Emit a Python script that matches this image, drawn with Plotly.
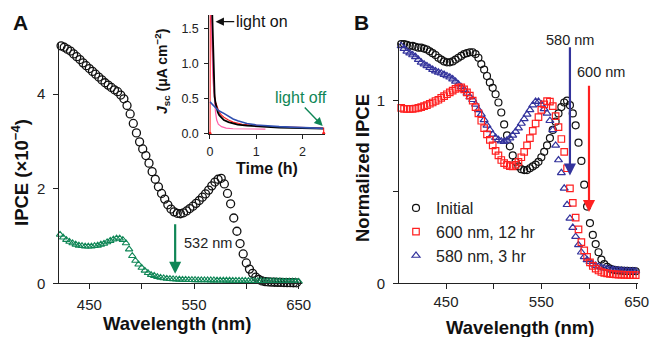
import plotly.graph_objects as go

# ---------------- data ----------------
# Panel A (IPCE x1e-4)
wl_a_black = list(range(423, 649, 3))
ipce_a_black = [5.02, 4.99, 4.95, 4.91, 4.85, 4.79, 4.73, 4.66, 4.60, 4.54,
                4.48, 4.42, 4.36, 4.30, 4.24, 4.19, 4.14, 4.09, 4.05, 3.98,
                3.90, 3.76, 3.58, 3.38, 3.18, 2.99, 2.84, 2.70, 2.54, 2.36,
                2.20, 2.04, 1.90, 1.78, 1.66, 1.57, 1.51, 1.48, 1.47, 1.49,
                1.53, 1.58, 1.63, 1.69, 1.75, 1.82, 1.89, 1.97, 2.06, 2.14,
                2.20, 2.22, 2.10, 1.90, 1.68, 1.38, 1.10, 0.84, 0.62, 0.43,
                0.30, 0.21, 0.13, 0.08, 0.05, 0.035, 0.03, 0.025, 0.022, 0.02,
                0.018, 0.016, 0.014, 0.013, 0.012, 0.011]
wl_a_green = list(range(422, 651, 3))
ipce_a_green = [1.03, 0.97, 0.92, 0.88, 0.85, 0.82, 0.80, 0.79, 0.78, 0.78,
                0.78, 0.79, 0.80, 0.82, 0.84, 0.87, 0.90, 0.93, 0.95, 0.95,
                0.92, 0.85, 0.72, 0.58, 0.48, 0.40, 0.33, 0.27, 0.22, 0.18,
                0.16, 0.135, 0.12, 0.11, 0.10, 0.095, 0.09, 0.085, 0.08, 0.078,
                0.076, 0.074, 0.072, 0.07, 0.069, 0.068, 0.067, 0.066, 0.065, 0.064,
                0.063, 0.062, 0.061, 0.06, 0.059, 0.058, 0.057, 0.056, 0.055, 0.054,
                0.053, 0.052, 0.051, 0.05, 0.049, 0.048, 0.047, 0.046, 0.045, 0.044,
                0.043, 0.042, 0.041, 0.04, 0.039, 0.038, 0.037]

# Inset: short-circuit current vs time
t_red = [0.0, 0.004, 0.03, 0.05, 0.07, 0.09, 0.12, 0.16, 0.20, 0.25, 0.30, 0.40,
         0.50, 0.70, 1.00, 1.25, 1.50, 1.75, 2.00, 2.25, 2.46, 2.462]
j_red = [0.0, 1.80, 1.60, 1.15, 0.80, 0.60, 0.45, 0.36, 0.30, 0.26, 0.23, 0.19,
         0.16, 0.13, 0.11, 0.10, 0.092, 0.086, 0.082, 0.078, 0.075, 0.0]
t_pink = [0.02, 0.03, 0.04, 0.05, 0.06, 0.07, 0.08, 0.10, 0.12, 0.145, 0.18,
          0.25, 0.35, 0.50, 0.80, 1.20]
j_pink = [1.80, 1.45, 1.20, 1.00, 0.84, 0.72, 0.60, 0.42, 0.30, 0.19, 0.13,
          0.095, 0.075, 0.065, 0.06, 0.06]
t_black = [0.045, 0.05, 0.06, 0.07, 0.08, 0.09, 0.10, 0.12, 0.14, 0.17, 0.20,
           0.25, 0.30, 0.40, 0.50, 0.60, 0.80, 1.00, 1.25, 1.50, 1.75, 2.00,
           2.25, 2.45]
j_black = [1.80, 1.65, 1.25, 0.98, 0.78, 0.63, 0.53, 0.43, 0.36, 0.30, 0.26,
           0.22, 0.19, 0.16, 0.14, 0.125, 0.11, 0.10, 0.09, 0.083, 0.078, 0.074,
           0.07, 0.068]
t_blue = [0.0, 0.05, 0.10, 0.15, 0.20, 0.30, 0.40, 0.50, 0.60, 0.80, 1.00,
          1.25, 1.50, 1.75, 2.00, 2.25, 2.45]
j_blue = [0.45, 0.41, 0.38, 0.35, 0.32, 0.285, 0.24, 0.205, 0.18, 0.14, 0.12,
          0.105, 0.095, 0.088, 0.08, 0.075, 0.07]

# Panel B (normalized IPCE)
wl_b = list(range(400, 650, 3))
norm_initial = [1.31, 1.31, 1.31, 1.305, 1.30, 1.30, 1.295, 1.29, 1.29, 1.285,
                1.28, 1.27, 1.26, 1.25, 1.235, 1.225, 1.215, 1.21, 1.21, 1.215,
                1.225, 1.235, 1.245, 1.255, 1.26, 1.265, 1.265, 1.255, 1.235, 1.20,
                1.17, 1.135, 1.10, 1.07, 1.035, 0.99, 0.935, 0.87, 0.81, 0.75,
                0.70, 0.665, 0.64, 0.625, 0.62, 0.62, 0.63, 0.64, 0.65, 0.665,
                0.69, 0.72, 0.755, 0.795, 0.84, 0.885, 0.93, 0.965, 0.99, 1.00,
                0.975, 0.93, 0.865, 0.77, 0.67, 0.54, 0.42, 0.33, 0.265, 0.215,
                0.17, 0.13, 0.105, 0.09, 0.08, 0.075, 0.072, 0.07, 0.069, 0.068,
                0.068, 0.067, 0.067, 0.066]
norm_600 = [0.965, 0.96, 0.955, 0.955, 0.955, 0.955, 0.957, 0.96, 0.965, 0.97,
            0.975, 0.983, 0.99, 0.998, 1.005, 1.015, 1.025, 1.035, 1.045, 1.055,
            1.065, 1.072, 1.073, 1.062, 1.045, 1.028, 1.00, 0.965, 0.93, 0.89,
            0.85, 0.815, 0.785, 0.755, 0.725, 0.70, 0.675, 0.658, 0.648, 0.641,
            0.64, 0.648, 0.665, 0.69, 0.72, 0.755, 0.795, 0.835, 0.875, 0.91,
            0.95, 0.98, 0.997, 0.995, 0.97, 0.915, 0.855, 0.79, 0.72, 0.63,
            0.52, 0.44, 0.36, 0.295, 0.225, 0.18, 0.145, 0.115, 0.095, 0.08,
            0.07, 0.062, 0.057, 0.054, 0.052, 0.05, 0.049, 0.048, 0.047, 0.046,
            0.046, 0.045, 0.045, 0.045]
norm_580 = [1.31, 1.30, 1.285, 1.27, 1.26, 1.25, 1.24, 1.225, 1.21, 1.20,
            1.19, 1.18, 1.17, 1.162, 1.155, 1.15, 1.143, 1.135, 1.128, 1.118,
            1.105, 1.09, 1.075, 1.06, 1.04, 1.02, 1.005, 0.98, 0.95, 0.925,
            0.895, 0.865, 0.84, 0.815, 0.798, 0.786, 0.778, 0.776, 0.783, 0.795,
            0.81, 0.83, 0.85, 0.875, 0.90, 0.925, 0.95, 0.975, 0.995, 0.995,
            0.98, 0.955, 0.93, 0.89, 0.84, 0.755, 0.675, 0.605, 0.52, 0.43,
            0.355, 0.305, 0.255, 0.21, 0.17, 0.145, 0.128, 0.118, 0.105, 0.097,
            0.092, 0.087, 0.083, 0.08, 0.077, 0.075, 0.073, 0.072, 0.07, 0.069,
            0.068, 0.067, 0.067, 0.066]

# ---------------- styling ----------------
W, H = 654, 337
FONT = "Arial, Liberation Sans, sans-serif"
GREEN = "#0f8656"
BLUE = "#33339c"
RED = "#ff2020"
PINK = "#ff5fa8"


def px(x):
    return x / W


def py(y):
    return 1 - y / H


fig = go.Figure()

# Panel A
fig.add_trace(go.Scatter(x=wl_a_black, y=ipce_a_black, mode="markers", xaxis="x", yaxis="y",
                         marker=dict(symbol="circle-open", size=8, color="#111111",
                                     line=dict(width=1.3)),
                         showlegend=False, cliponaxis=False))
fig.add_trace(go.Scatter(x=wl_a_green, y=ipce_a_green, mode="markers", xaxis="x", yaxis="y",
                         marker=dict(symbol="triangle-up-open", size=6.5, color=GREEN,
                                     line=dict(width=1.1)),
                         showlegend=False, cliponaxis=False))

# Inset
fig.add_trace(go.Scatter(x=t_red, y=j_red, mode="lines", xaxis="x2", yaxis="y2",
                         line=dict(color=RED, width=1.2), showlegend=False))
fig.add_trace(go.Scatter(x=t_pink, y=j_pink, mode="lines", xaxis="x2", yaxis="y2",
                         line=dict(color=PINK, width=1.2), showlegend=False))
fig.add_trace(go.Scatter(x=t_black, y=j_black, mode="lines", xaxis="x2", yaxis="y2",
                         line=dict(color="#000000", width=1.8), showlegend=False))
fig.add_trace(go.Scatter(x=t_blue, y=j_blue, mode="lines", xaxis="x2", yaxis="y2",
                         line=dict(color="#3050b0", width=1.6), showlegend=False))
fig.add_trace(go.Scatter(x=[t_red[0], t_red[-1]], y=[0, 0], mode="markers", xaxis="x2", yaxis="y2",
                         marker=dict(color=RED, size=3), showlegend=False, cliponaxis=False))

# Panel B
fig.add_trace(go.Scatter(x=wl_b, y=norm_initial, mode="markers", xaxis="x3", yaxis="y3",
                         name="Initial", legendrank=1,
                         marker=dict(symbol="circle-open", size=7, color="#111111",
                                     line=dict(width=1.2)), cliponaxis=False))
fig.add_trace(go.Scatter(x=wl_b, y=norm_580, mode="markers", xaxis="x3", yaxis="y3",
                         name="580 nm, 3 hr", legendrank=3,
                         marker=dict(symbol="triangle-up-open", size=7, color=BLUE,
                                     line=dict(width=1.2)), cliponaxis=False))
fig.add_trace(go.Scatter(x=wl_b, y=norm_600, mode="markers", xaxis="x3", yaxis="y3",
                         name="600 nm, 12 hr", legendrank=2,
                         marker=dict(symbol="square-open", size=6.5, color=RED,
                                     line=dict(width=1.2)), cliponaxis=False))

axis_common = dict(showline=True, linecolor="#222222", linewidth=1, ticks="outside",
                   tickcolor="#222222", showgrid=False, zeroline=False, automargin=False,
                   tickfont=dict(family=FONT, size=15, color="#222222"))
small_font = dict(family=FONT, size=12.5, color="#222222")

fig.update_layout(
    template="none",
    width=W, height=H, margin=dict(l=0, r=0, t=0, b=0, autoexpand=False),
    paper_bgcolor="white", plot_bgcolor="rgba(0,0,0,0)",
    font=dict(family=FONT, color="#111111"),
    xaxis=dict(**axis_common, domain=[px(59.3), px(301.7)], range=[421.3, 652.9], anchor="y",
               tickvals=[450, 500, 550, 600, 650], ticktext=["450", "", "550", "", "650"],
               ticklen=5, ticklabelstandoff=3),
    yaxis=dict(**axis_common, domain=[py(283.3), py(43)], range=[0, 5.08], anchor="x",
               tickvals=[0, 2, 4], ticklen=5, ticklabelstandoff=5),
    xaxis2=dict(**{**axis_common, "tickfont": small_font},
                domain=[px(209.3), px(325)], range=[-0.015, 2.49], anchor="y2",
                tickvals=[0, 1, 2], ticklen=4, ticklabelstandoff=2),
    yaxis2=dict(**{**axis_common, "tickfont": small_font},
                domain=[py(134), py(15)], range=[-0.01, 1.695], anchor="x2",
                tickvals=[0, 0.5, 1.0, 1.5], ticktext=["0.0", "0.5", "1.0", "1.5"],
                ticklen=4, ticklabelstandoff=3),
    xaxis3=dict(**axis_common, domain=[px(399), px(638)], range=[400.7, 651.4], anchor="y3",
                tickvals=[400, 450, 500, 550, 600, 650],
                ticktext=["", "450", "", "550", "", "650"], ticklen=5, ticklabelstandoff=0),
    yaxis3=dict(**axis_common, domain=[py(283.3), py(43.3)], range=[0, 1.314], anchor="x3",
                tickvals=[0, 0.5, 1], ticktext=["0", "", "1"], ticklen=5, ticklabelstandoff=5),
    legend=dict(x=px(396), y=py(191), xanchor="left", yanchor="top",
                bgcolor="rgba(0,0,0,0)", font=dict(family=FONT, size=16, color="#222222"),
                itemwidth=30, tracegroupgap=0),
)


def note(text, x, y, size, color="#111111", angle=0):
    return dict(text=text, x=px(x), y=py(y), xref="paper", yref="paper",
                xanchor="center", yanchor="middle", showarrow=False, textangle=angle,
                font=dict(size=size, family=FONT, color=color))


ann = [
    note("<b>A</b>", 20, 22, 21),
    note("<b>B</b>", 361, 22, 21),
    note("<b>Wavelength (nm)</b>", 177, 323, 18.5),
    note("<b>Wavelength (nm)</b>", 520, 327, 18.5),
    note("<b>IPCE (×10<sup>−4</sup>)</b>", 20, 173, 18.5, angle=-90),
    note("<b>Normalized IPCE</b>", 362, 168, 18.5, angle=-90),
    note("<b><i>J</i><sub>sc</sub> (μA cm<sup>−2</sup>)</b>", 162, 72, 14, angle=-90),
    note("<b>Time (h)</b>", 267, 168, 16),
    note("light off", 301, 97, 16, color=GREEN),
    note("580 nm", 570, 40, 14.5, color="#222222"),
    note("600 nm", 601, 72, 14.5, color="#222222"),
]
# inset arrows
ann.append(dict(text="light on", x=0.12, y=1.6, xref="x2", yref="y2", ax=1.12, ay=1.6,
                axref="x2", ayref="y2", showarrow=True, arrowhead=2, arrowsize=1.2,
                arrowwidth=1.4, arrowcolor="#111111",
                font=dict(size=16, family=FONT, color="#111111")))
ann.append(dict(text="", x=2.44, y=0.105, xref="x2", yref="y2", ax=2.02, ay=0.39,
                axref="x2", ayref="y2", showarrow=True, arrowhead=2, arrowsize=1.2,
                arrowwidth=1.4, arrowcolor=GREEN))
# panel A arrow
ann.append(dict(text="", x=532, y=0.2, xref="x", yref="y", ax=532, ay=1.28,
                axref="x", ayref="y", showarrow=True, arrowhead=2, arrowsize=1.1,
                arrowwidth=2.2, arrowcolor=GREEN))
ann.append(dict(text="532 nm", x=538.5, y=0.86, xref="x", yref="y", xanchor="left",
                yanchor="middle", showarrow=False,
                font=dict(size=14.5, family=FONT, color="#222222")))
# panel B arrows
ann.append(dict(text="", x=580, y=0.59, xref="x3", yref="y3", ax=580, ay=1.30,
                axref="x3", ayref="y3", showarrow=True, arrowhead=2, arrowsize=1.1,
                arrowwidth=2.2, arrowcolor=BLUE))
ann.append(dict(text="", x=600, y=0.39, xref="x3", yref="y3", ax=600, ay=1.09,
                axref="x3", ayref="y3", showarrow=True, arrowhead=2, arrowsize=1.1,
                arrowwidth=2.2, arrowcolor=RED))

fig.update_layout(annotations=ann)
fig.write_html("out.html")
